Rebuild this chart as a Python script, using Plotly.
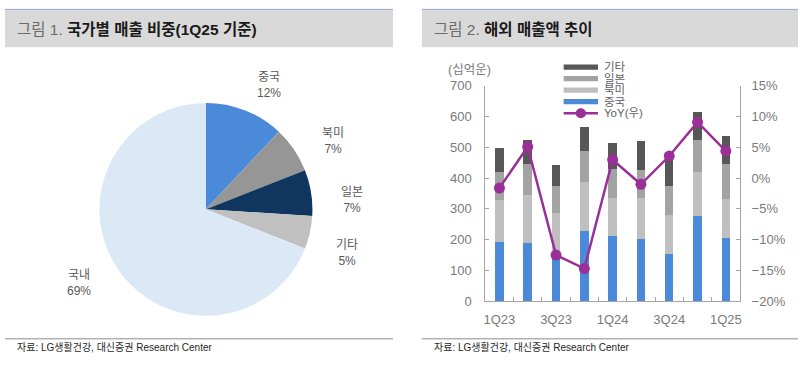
import math
import plotly.graph_objects as go

# ---------------- data ----------------
PIE_LABELS = ["중국", "북미", "일본", "기타", "국내"]
PIE_VALUES = [12, 7, 7, 5, 69]

QUARTERS = ["1Q23", "2Q23", "3Q23", "4Q23", "1Q24", "2Q24", "3Q24", "4Q24", "1Q25"]
CHINA = [192, 189, 140, 228, 212, 201, 153, 276, 204]
NORTH_AMERICA = [138, 156, 146, 161, 123, 135, 128, 145, 127]
JAPAN = [90, 101, 88, 100, 95, 92, 93, 102, 114]
OTHER = [79, 79, 70, 76, 84, 92, 86, 93, 92]
YOY = [-1.6, 5.1, -12.5, -14.7, 3.0, -1.0, 3.6, 9.1, 4.4]

X_TICK_LABELS = ["1Q23", "3Q23", "1Q24", "3Q24", "1Q25"]

# ---------------- style ----------------
W, H = 800, 366
def px(x): return x / W
def py(y): return 1 - y / H

FONT = "Liberation Sans, Noto Sans CJK KR, sans-serif"
C_CHINA = "#4a8ad9"
C_NA = "#bfbfbf"
C_JP = "#a3a3a3"
C_OTHER = "#575757"
C_YOY = "#9b2f98"
PIE_COLORS = [C_CHINA, "#969696", "#10365f", "#c0c0c0", "#dbe8f6"]
AX = "#a6a6a6"
TXT = "#7a7a7a"

# pie geometry (pixels)
PIE_CX, PIE_CY, PIE_R = 205, 211, 111

fig = go.Figure()

fig.add_trace(go.Pie(
    labels=PIE_LABELS, values=PIE_VALUES, sort=False, direction="clockwise", rotation=0,
    marker=dict(colors=PIE_COLORS, line=dict(width=0)),
    textinfo="none",
    domain=dict(x=[px(PIE_CX - PIE_R), px(PIE_CX + PIE_R)], y=[py(PIE_CY + PIE_R), py(PIE_CY - PIE_R)]),
    showlegend=False, hoverinfo="skip",
))

xpos = list(range(len(QUARTERS)))
for vals, col, name in [(CHINA, C_CHINA, "중국"), (NORTH_AMERICA, C_NA, "북미"),
                        (JAPAN, C_JP, "일본"), (OTHER, C_OTHER, "기타")]:
    fig.add_trace(go.Bar(x=xpos, y=vals, name=name, marker=dict(color=col, line=dict(width=0)),
                         width=0.3, showlegend=False, hoverinfo="skip"))

fig.add_trace(go.Scatter(x=xpos, y=YOY, yaxis="y2", mode="lines+markers", name="YoY(우)",
                         line=dict(color=C_YOY, width=2.5), marker=dict(size=11, color=C_YOY),
                         showlegend=False, hoverinfo="skip"))

# ---------------- decorations ----------------
shapes = []
annotations = []

# pie labels placed outside each slice, at its mid angle (slightly rotated clockwise)
total = sum(PIE_VALUES)
cum = 0
for lab, val in zip(PIE_LABELS, PIE_VALUES):
    mid = (cum + val / 2) / total * 2 * math.pi + math.radians(4)
    cum += val
    k = 1.33 * PIE_R
    lx = PIE_CX + k * math.sin(mid)
    ly_ = PIE_CY - k * math.cos(mid) + 3
    annotations.append(dict(xref="paper", yref="paper", x=px(lx), y=py(ly_), xanchor="center",
                            yanchor="middle", showarrow=False, text=f"{lab}<br>{val}%",
                            font=dict(size=12, color="#595959", family=FONT)))

for x0, x1, tx, title in [(3, 393, 13, "<span style='color:#6b6b6b'>그림 1.</span> <b>국가별 매출 비중(1Q25 기준)</b>"),
                          (422, 800, 432, "<span style='color:#6b6b6b'>그림 2.</span> <b>해외 매출액 추이</b>")]:
    shapes.append(dict(type="rect", xref="paper", yref="paper", x0=px(x0), x1=px(x1),
                       y0=py(42), y1=py(3), fillcolor="#d9d9d9", line=dict(width=0), layer="below"))
    shapes.append(dict(type="line", xref="paper", yref="paper", x0=px(x0), x1=px(x1),
                       y0=py(2.5), y1=py(2.5), line=dict(color="#8eaad6", width=1)))
    shapes.append(dict(type="line", xref="paper", yref="paper", x0=px(x0), x1=px(x1),
                       y0=py(346), y1=py(346), line=dict(color="#8c8c8c", width=1)))
    annotations.append(dict(xref="paper", yref="paper", x=px(tx), y=py(23.5), xanchor="left",
                            yanchor="middle", showarrow=False, text=title,
                            font=dict(size=15.5, color="#1a1a1a", family=FONT)))
    annotations.append(dict(xref="paper", yref="paper", x=px(tx), y=py(355), xanchor="left",
                            yanchor="middle", showarrow=False,
                            text="자료: LG생활건강, 대신증권 Research Center",
                            font=dict(size=10, color="#262626",
                                      family="Liberation Sans Narrow, Liberation Sans, Noto Sans CJK KR")))

annotations.append(dict(xref="paper", yref="paper", x=px(469.5), y=py(66), xanchor="center",
                        yanchor="middle", showarrow=False, text="(십억운)",
                        font=dict(size=12.5, color=TXT, family=FONT)))

# legend (manual, compact)
LEG_NAMES = ["기타", "일본", "북미", "중국"]
LEG_COLORS = [C_OTHER, C_JP, C_NA, C_CHINA]
lx0, lx1, ly, step = 564.5, 599, 62.7, 12.0
for i, (n, c) in enumerate(zip(LEG_NAMES, LEG_COLORS)):
    yc = ly + i * step
    shapes.append(dict(type="rect", xref="paper", yref="paper", x0=px(lx0), x1=px(lx1),
                       y0=py(yc + 2.8), y1=py(yc - 2.8), fillcolor=c, line=dict(width=0)))
    annotations.append(dict(xref="paper", yref="paper", x=px(603), y=py(yc), xanchor="left",
                            yanchor="middle", showarrow=False, text=n,
                            font=dict(size=11.5, color="#5f5f5f", family=FONT)))
yc = ly + 4 * step
shapes.append(dict(type="line", xref="paper", yref="paper", x0=px(lx0), x1=px(lx1),
                   y0=py(yc), y1=py(yc), line=dict(color=C_YOY, width=2.5)))
mc = (lx0 + lx1) / 2
shapes.append(dict(type="circle", xref="paper", yref="paper", x0=px(mc - 5.2), x1=px(mc + 5.2),
                   y0=py(yc + 5.2), y1=py(yc - 5.2), fillcolor=C_YOY, line=dict(width=0)))
annotations.append(dict(xref="paper", yref="paper", x=px(603), y=py(yc), xanchor="left",
                        yanchor="middle", showarrow=False, text="YoY(우)",
                        font=dict(size=11.5, color="#5f5f5f", family=FONT)))

tickfont = dict(size=13, color=TXT, family=FONT)
fig.update_layout(
    width=W, height=H, margin=dict(l=0, r=0, t=0, b=0),
    paper_bgcolor="white", plot_bgcolor="rgba(0,0,0,0)",
    barmode="stack", font=dict(family=FONT), showlegend=False,
    shapes=shapes, annotations=annotations,
    xaxis=dict(domain=[px(485.7), px(741.7)], range=[-0.5, len(QUARTERS) - 0.5],
               tickmode="array", tickvals=xpos[::2], ticktext=X_TICK_LABELS,
               showline=True, linecolor=AX, linewidth=1, ticks="", showgrid=False, zeroline=False,
               minor=dict(tickvals=[i + 0.5 for i in range(len(QUARTERS) - 1)], ticks="inside",
                          ticklen=4, tickcolor=AX, showgrid=False),
               tickfont=tickfont, ticklabelstandoff=6, fixedrange=True),
    yaxis=dict(domain=[py(306.7), py(82.3)], range=[0, 700], tickmode="linear", tick0=0, dtick=100,
               showline=True, linecolor=AX, linewidth=1, ticks="inside", ticklen=4, tickcolor=AX,
               showgrid=False, zeroline=False, tickfont=tickfont, ticklabelstandoff=10,
               fixedrange=True),
    yaxis2=dict(overlaying="y", side="right", anchor="x", range=[-20, 15], tickmode="linear",
                tick0=0, dtick=5, ticksuffix="%", showline=True, linecolor=AX, linewidth=1,
                ticks="inside", ticklen=4, tickcolor=AX, showgrid=False, zeroline=False,
                tickfont=tickfont, ticklabelstandoff=8, fixedrange=True),
)

fig.write_html("out.html", config={"displayModeBar": False},
               post_script="document.body.style.margin='0';document.body.style.overflow='hidden';")
